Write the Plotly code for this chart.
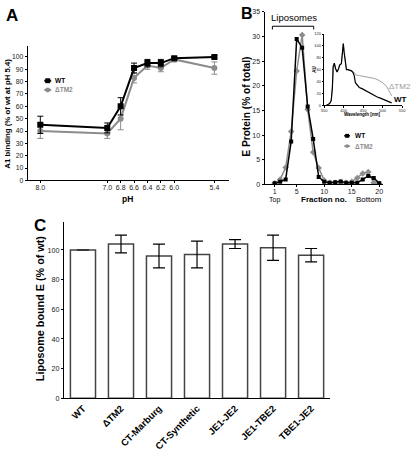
import plotly.graph_objects as go

W, H = 416, 452
def px(x): return x / W
def py(y): return 1 - y / H

FONT = "Liberation Sans, Arial, sans-serif"
GRAY = "#8c8c8c"

# ---------------- Panel A data ----------------
ph = [8.0, 7.0, 6.8, 6.6, 6.4, 6.2, 6.0, 5.4]
ph_labels = ["8.0", "7.0", "6.8", "6.6", "6.4", "6.2", "6.0", "5.4"]
a_wt = [45, 42.5, 60, 91, 95, 95, 99, 100]
a_wt_err = [7, 4, 7, 4, 3, 3, 1, 1]
a_tm2 = [40, 38, 50, 83, 93, 91, 98, 91]
a_tm2_err = [6, 4, 9, 4, 3, 3, 2, 5]

# ---------------- Panel B data ----------------
fractions = list(range(1, 21))
b_wt = [0.2, 0.5, 1.0, 8.7, 29.5, 27.7, 15.8, 9.2, 1.5, 0.5, 0.3, 0.4, 0.6, 0.3, 0.3, 0.3, 1.0, 1.7, 1.3, 0.2]
b_tm2 = [0.2, 1.0, 3.4, 10.7, 23.0, 30.3, 15.2, 6.5, 3.3, 0.8, 0.3, 0.3, 0.4, 0.3, 0.5, 1.3, 2.2, 2.5, 0.3, 0.1]

# ---------------- Inset spectra ----------------
wl_wt = [356, 360, 364, 368, 371, 373, 376, 379, 383, 387, 390, 394, 397, 399, 401, 404, 407, 411, 415, 420,
         424, 427, 430, 435, 440, 447, 455, 462, 470, 478, 486, 494, 502, 510, 518, 523]
au_wt = [0, 1, 3, 8, 30, 65, 71, 62, 56, 62, 68, 70, 85, 104, 90, 70, 60, 60, 59, 58,
         55, 50, 38, 33, 30, 28, 25, 22, 19, 17, 14, 12, 10, 8, 6, 4]
wl_tm2 = [356, 360, 364, 368, 371, 373, 376, 379, 383, 387, 390, 394, 397, 399, 401, 404, 407, 411, 415, 420,
          424, 428, 432, 440, 450, 460, 470, 480, 490, 500, 510, 518, 523]
au_tm2 = [0, 1, 3, 8, 30, 65, 71, 62, 56, 62, 68, 70, 85, 104, 90, 70, 60, 60, 59, 58,
          57, 54, 51, 50, 49, 48, 46, 45, 42, 38, 32, 22, 16]

# ---------------- Panel C data ----------------
c_cats = ["WT", "ΔTM2", "CT-Marburg", "CT-Synthetic", "JE1-JE2", "JE1-TBE2", "TBE1-JE2"]
c_vals = [100, 104, 96, 97, 104, 101.5, 96.5]
c_err = [0, 6, 8, 9, 3, 8.5, 4.5]

fig = go.Figure()

# Panel A
fig.add_trace(go.Scatter(x=ph, y=a_tm2, mode="lines+markers", xaxis="x", yaxis="y",
                         line=dict(color=GRAY, width=2), marker=dict(symbol="circle", size=6, color=GRAY),
                         error_y=dict(type="data", array=a_tm2_err, color=GRAY, thickness=1, width=3),
                         showlegend=False))
fig.add_trace(go.Scatter(x=ph, y=a_wt, mode="lines+markers", xaxis="x", yaxis="y",
                         line=dict(color="black", width=2), marker=dict(symbol="square", size=6, color="black"),
                         error_y=dict(type="data", array=a_wt_err, color="black", thickness=1, width=3),
                         showlegend=False))

# Panel B
fig.add_trace(go.Scatter(x=fractions, y=b_tm2, mode="lines+markers", xaxis="x2", yaxis="y2",
                         line=dict(color=GRAY, width=1.5), marker=dict(symbol="diamond", size=5, color=GRAY),
                         showlegend=False))
fig.add_trace(go.Scatter(x=fractions, y=b_wt, mode="lines+markers", xaxis="x2", yaxis="y2",
                         line=dict(color="black", width=1.5), marker=dict(symbol="square", size=4, color="black"),
                         showlegend=False))

# Inset
fig.add_trace(go.Scatter(x=wl_tm2, y=au_tm2, mode="lines", xaxis="x3", yaxis="y3",
                         line=dict(color="#a0a0a0", width=1), showlegend=False))
fig.add_trace(go.Scatter(x=wl_wt, y=au_wt, mode="lines", xaxis="x3", yaxis="y3",
                         line=dict(color="black", width=1.2), showlegend=False))

# Panel C
fig.add_trace(go.Bar(x=c_cats, y=c_vals, xaxis="x4", yaxis="y4", width=0.66,
                     marker=dict(color="white", line=dict(color="#444", width=1.5)),
                     error_y=dict(type="data", array=c_err, color="black", thickness=1.2, width=6),
                     showlegend=False))

axis_common = dict(showline=True, linecolor="black", linewidth=1, ticks="outside", ticklen=2,
                   tickcolor="black", tickwidth=1, showgrid=False, zeroline=False,
                   tickfont=dict(family=FONT, size=7, color="#222"))

fig.update_layout(
    width=W, height=H, margin=dict(l=0, r=0, t=0, b=0),
    paper_bgcolor="white", plot_bgcolor="rgba(0,0,0,0)",
    font=dict(family=FONT, color="black"),
    xaxis=dict(axis_common, domain=[px(25), px(230)], range=[8.19, 5.18], anchor="y",
               tickvals=ph, ticktext=ph_labels, ticklabelstandoff=-2),
    yaxis=dict(axis_common, domain=[py(180), py(43.3)], range=[0, 108.5], anchor="x",
               tickvals=list(range(0, 101, 10)), tickfont=dict(family=FONT, size=6.8, color="#222")),
    xaxis2=dict(axis_common, domain=[px(266), px(387)], range=[-0.84, 20.77], anchor="y2",
                tickvals=[1, 5, 10, 15, 20], ticklabelstandoff=-2),
    yaxis2=dict(axis_common, domain=[py(184), py(8)], range=[0, 35], anchor="x2",
                tickvals=[0, 5, 10, 15, 20, 25, 30, 35]),
    xaxis3=dict(axis_common, domain=[px(326.7), px(406)], range=[350, 550], anchor="y3",
                tickvals=[350, 400, 450, 500, 550], ticklen=1.5, ticklabelstandoff=-1,
                tickfont=dict(family=FONT, size=4, color="#222")),
    yaxis3=dict(axis_common, domain=[py(103.3), py(30.7)], range=[0, 120], anchor="x3",
                tickvals=[0, 20, 40, 60, 80, 100, 120], ticklen=1.5,
                tickfont=dict(family=FONT, size=4, color="#222")),
    xaxis4=dict(axis_common, domain=[px(62), px(332.7)], range=[-0.5, 6.5], anchor="y4",
                ticks="", tickangle=-45, tickfont=dict(family=FONT, size=9.5, color="black", weight="bold")),
    yaxis4=dict(axis_common, domain=[py(402.3), py(222.7)], range=[0, 118.7], anchor="x4",
                tickvals=[0, 20, 40, 60, 80, 100], tickfont=dict(family=FONT, size=7.2, color="#222")),
)

ann = []
def A(x, y, text, size=8, bold=False, color="black", angle=0, xanchor="center"):
    ann.append(dict(x=px(x), y=py(y), xref="paper", yref="paper", text=text, showarrow=False,
                    textangle=angle, xanchor=xanchor, yanchor="middle",
                    font=dict(family=FONT, size=size, color=color, weight="bold" if bold else "normal")))

# panel letters
A(1, 12, "A", 17, True, xanchor="left")
A(240, 10, "B", 16, True, xanchor="left")
A(29, 226, "C", 17, True, xanchor="left")
# titles
A(5, 112, "A1 binding (% of wt at pH 5.4)", 7.8, True, angle=-90)
A(127, 199, "pH", 8.5, True)
A(248, 105, "E Protein (% of total)", 10.2, True, angle=-90)
A(276, 199.5, "Top", 7)
A(327, 199, "Fraction no.", 8, True)
A(372, 199, "Bottom", 8)
A(296, 14, "Liposomes", 9.5)
A(37, 310, "Liposome bound E (% of wt)", 10.8, True, angle=-90)
# inset titles
A(317.5, 67, "AU", 4.5, True, angle=-90)
A(366, 113, "Wavelength [nm]", 4.5, True)
A(404, 84, "ΔTM2", 8, False, color="#999")
A(404, 97, "WT", 8, True)
# legends
A(51, 78.3, "WT", 6.5, True, xanchor="left")
A(51, 87.7, "ΔTM2", 6.5, True, color=GRAY, xanchor="left")
A(356, 134.5, "WT", 6.5, True, xanchor="left")
A(356, 145, "ΔTM2", 6.5, True, color=GRAY, xanchor="left")
fig.update_layout(annotations=ann)

shapes = []
def seg(x0, y0, x1, y1, color="black", width=1):
    shapes.append(dict(type="line", xref="paper", yref="paper", x0=px(x0), y0=py(y0), x1=px(x1), y1=py(y1),
                       line=dict(color=color, width=width)))
def box(cx, cy, r, color):
    shapes.append(dict(type="rect", xref="paper", yref="paper", x0=px(cx - r), x1=px(cx + r),
                       y0=py(cy + r), y1=py(cy - r), fillcolor=color, line=dict(width=0)))
def dot(cx, cy, r, color):
    shapes.append(dict(type="circle", xref="paper", yref="paper", x0=px(cx - r), x1=px(cx + r),
                       y0=py(cy + r), y1=py(cy - r), fillcolor=color, line=dict(width=0)))

# liposome bracket
seg(274, 22.7, 316, 22.7)
seg(274, 22.7, 274, 26)
seg(316, 22.7, 316, 26)
# legend A
seg(42, 78.3, 49, 78.3, "black", 2); box(45.5, 78.3, 2.5, "black")
seg(42, 87.7, 49, 87.7, GRAY, 2); dot(45.5, 87.7, 2.5, GRAY)
# legend B
seg(347, 134.5, 353, 134.5, "black", 1.5); box(350, 134.5, 2, "black")
seg(347, 145, 353, 145, GRAY, 1.5); dot(350, 145, 2, GRAY)
fig.update_layout(shapes=shapes)

fig.write_html("out.html", config={"displayModeBar": False},
               post_script="document.body.style.margin='0';")
